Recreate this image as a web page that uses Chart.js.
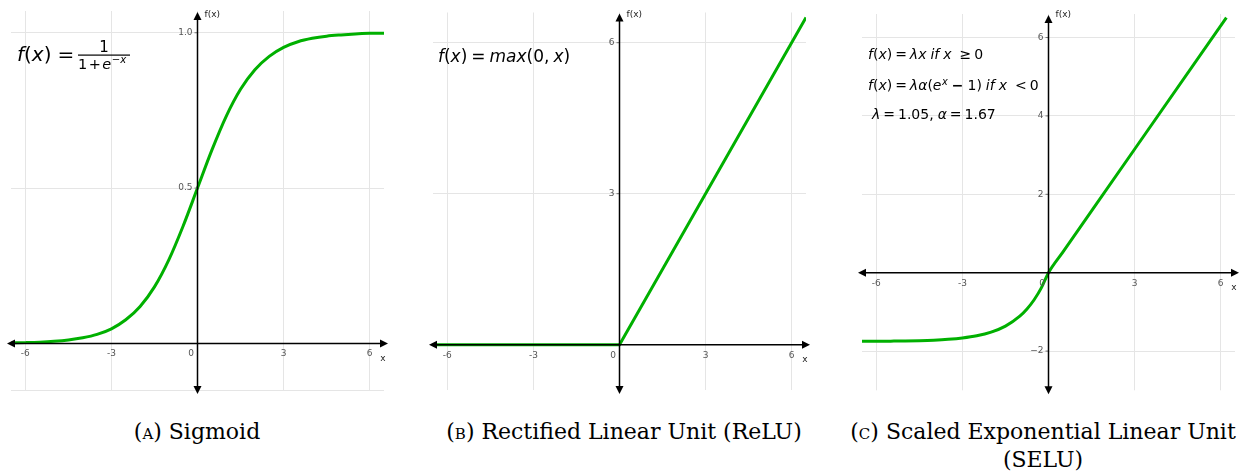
<!DOCTYPE html>
<html>
<head>
<meta charset="utf-8">
<script src="https://cdn.jsdelivr.net/npm/chart.js@4.4.1/dist/chart.umd.min.js"></script>
<style>
  body { margin: 0; background: #fff; width: 1241px; height: 472px; position: relative; overflow: hidden; }
  canvas { position: absolute; top: 0; }
  .cap { position: absolute; font-family: "DejaVu Serif", serif; font-size: 22px; line-height: 28px; color: #000; text-align: center; white-space: nowrap; }
  .sc { font-variant: small-caps; }
</style>
</head>
<body>
<canvas id="sigmoid" width="400" height="400" style="left:0"></canvas>
<canvas id="relu" width="400" height="400" style="left:420px"></canvas>
<canvas id="selu" width="401" height="400" style="left:840px"></canvas>

<div class="cap" style="left:97px;width:200px;top:418px">(<span class="sc">a</span>) Sigmoid</div>
<div class="cap" style="left:424px;width:400px;top:418px">(<span class="sc">b</span>) Rectified Linear Unit (ReLU)</div>
<div class="cap" style="left:843px;width:400px;top:418px">(<span class="sc">c</span>) Scaled Exponential Linear Unit<br>(SELU)</div>

<script>
// x ticks shared by the three panels
const xTicks = [-6, -3, 0, 3, 6];

// sigmoid curve samples
const sigmoidX = [-6.5, -6, -5.5, -5, -4.5, -4, -3.5, -3, -2.5, -2, -1.5, -1, -0.5, 0,
                  0.5, 1, 1.5, 2, 2.5, 3, 3.5, 4, 4.5, 5, 5.5, 6, 6.5];
const sigmoidY = [0.0015, 0.0025, 0.004, 0.0067, 0.011, 0.018, 0.029, 0.047, 0.076, 0.119, 0.182, 0.269, 0.378, 0.5,
                  0.622, 0.731, 0.818, 0.881, 0.924, 0.953, 0.971, 0.982, 0.989, 0.993, 0.996, 0.998, 0.998];
const sigmoidYTicks = [-0.15, 0, 0.5, 1.0];
const sigmoidYLabels = ["", "", "0.5", "1.0"];

// relu
const reluX = [-6.5, 0, 6.5];
const reluY = [0, 0, 6.5];
const reluYTicks = [0, 3, 6];
const reluYLabels = ["", "3", "6"];

// selu, lambda = 1.05, alpha = 1.67
const seluX = [-6.5, -6, -5.5, -5, -4.5, -4, -3.5, -3, -2.5, -2, -1.5, -1, -0.75, -0.5, -0.25, 0, 0.5, 3, 6.2];
const seluY = [-1.751, -1.749, -1.746, -1.742, -1.734, -1.721, -1.700, -1.666, -1.610, -1.516, -1.362, -1.108,
               -0.925, -0.690, -0.388, 0, 0.525, 3.15, 6.51];
const seluYTicks = [-2, 0, 2, 4, 6];
const seluYLabels = ["\u22122", "", "2", "4", "6"];

const GREEN = "#00b000";
const GRID = "#e5e5e5";

// draws a run of math text pieces: [text, style, dx, dy, sizeScale]
function drawMath(ctx, pieces, x, baseline, size) {
    let cx = x;
    pieces.forEach(([text, style, dx = 0, dy = 0, k = 1]) => {
        const italic = style === "i" ? "italic " : style === "b" ? "bold " : "";
        ctx.font = italic + (size * k).toFixed(1) + 'px "DejaVu Sans"';
        cx += dx;
        ctx.fillText(text, cx, baseline + dy);
        cx += ctx.measureText(text).width;
    });
    return cx;
}

function arrowHead(ctx, x, y, dir) {
    const L = 8, W = 4;
    ctx.beginPath();
    if (dir === "left") { ctx.moveTo(x, y); ctx.lineTo(x + L, y - W); ctx.lineTo(x + L, y + W); }
    if (dir === "right") { ctx.moveTo(x, y); ctx.lineTo(x - L, y - W); ctx.lineTo(x - L, y + W); }
    if (dir === "up") { ctx.moveTo(x, y); ctx.lineTo(x - W, y + L); ctx.lineTo(x + W, y + L); }
    if (dir === "down") { ctx.moveTo(x, y); ctx.lineTo(x - W, y - L); ctx.lineTo(x + W, y - L); }
    ctx.closePath();
    ctx.fill();
}

// axes through the origin with arrows, tick labels and the formula text
function axesPlugin(formula) {
    return {
        id: "originAxes",
        afterDatasetsDraw(chart) {
            const { ctx, chartArea: a, scales: { x, y } } = chart;
            const x0 = x.getPixelForValue(0);
            const y0 = y.getPixelForValue(0);
            ctx.save();

            // tick labels
            ctx.font = '9px "DejaVu Sans"';
            ctx.fillStyle = "#555";
            ctx.textAlign = "center";
            ctx.textBaseline = "top";
            x.ticks.forEach(t => {
                if (t.value === 0) return;
                ctx.fillText(String(t.value), x.getPixelForValue(t.value), y0 + 6);
            });
            ctx.fillText("0", x0 - 6.5, y0 + 6);
            ctx.textAlign = "right";
            ctx.textBaseline = "middle";
            ctx.strokeStyle = "#777";
            ctx.lineWidth = 1;
            y.ticks.forEach(t => {
                const label = chart.options.scales.y.labels[chart.options.scales.y.values.indexOf(t.value)];
                if (!label) return;
                const py = y.getPixelForValue(t.value);
                ctx.fillText(label, x0 - 5, py);
                ctx.beginPath();
                ctx.moveTo(x0 - 3, py);
                ctx.lineTo(x0, py);
                ctx.stroke();
            });

            // axis lines
            ctx.strokeStyle = "#000";
            ctx.fillStyle = "#000";
            ctx.lineWidth = 1.5;
            const xl = a.left - 4, xr = a.right + 4, yt = a.top + 1, yb = a.bottom + 4;
            ctx.beginPath();
            ctx.moveTo(xl + 4, y0); ctx.lineTo(xr - 4, y0);
            ctx.moveTo(x0, yt + 4); ctx.lineTo(x0, yb - 4);
            ctx.stroke();
            arrowHead(ctx, xl, y0, "left");
            arrowHead(ctx, xr, y0, "right");
            arrowHead(ctx, x0, yt, "up");
            arrowHead(ctx, x0, yb, "down");

            // axis names
            ctx.fillStyle = "#222";
            ctx.font = '9px "DejaVu Sans"';
            ctx.textAlign = "left";
            ctx.textBaseline = "middle";
            ctx.fillText("f(x)", x0 + 7, 15);
            ctx.textAlign = "center";
            ctx.fillText("x", a.right - 1, y0 + 15);

            // formula
            ctx.fillStyle = "#000";
            ctx.textAlign = "left";
            ctx.textBaseline = "alphabetic";
            formula(ctx);
            ctx.restore();
        }
    };
}

function makeChart(id, xs, ys, yTicks, yLabels, yMin, yMax, padding, smooth, formula) {
    const points = xs.map((v, i) => ({ x: v, y: ys[i] }));
    return new Chart(document.getElementById(id), {
        type: "line",
        data: {
            datasets: [{
                data: points,
                borderColor: GREEN,
                borderWidth: 3,
                pointRadius: 0,
                fill: false,
                cubicInterpolationMode: smooth ? "monotone" : "default",
                tension: 0,
            }],
        },
        options: {
            responsive: false,
            animation: false,
            devicePixelRatio: 1,
            layout: { padding: padding },
            plugins: { legend: { display: false }, tooltip: { enabled: false } },
            scales: {
                x: {
                    type: "linear",
                    min: -6.5,
                    max: 6.5,
                    position: { y: 0 },
                    afterBuildTicks: s => { s.ticks = xTicks.map(v => ({ value: v })); },
                    ticks: { display: false },
                    grid: { color: GRID, lineWidth: 1, drawTicks: false },
                    border: { display: false },
                },
                y: {
                    type: "linear",
                    min: yMin,
                    max: yMax,
                    position: { x: 0 },
                    values: yTicks,
                    labels: yLabels,
                    afterBuildTicks: s => { s.ticks = yTicks.map(v => ({ value: v })); },
                    ticks: { display: false },
                    grid: { color: GRID, lineWidth: 1, drawTicks: false },
                    border: { display: false },
                },
            },
        },
        plugins: [axesPlugin(formula)],
    });
}

makeChart("sigmoid", sigmoidX, sigmoidY, sigmoidYTicks, sigmoidYLabels, -0.15, 1.07,
    { left: 11, right: 16, top: 11, bottom: 10 }, true, ctx => {
        drawMath(ctx, [["f", "i"], ["("], ["x", "i"], [")"], ["=", "n", 6]], 17, 61, 20);
        ctx.fillRect(78, 54.5, 52, 1.2);
        ctx.font = '15px "DejaVu Sans"';
        ctx.textAlign = "center";
        ctx.fillText("1", 104, 52);
        ctx.textAlign = "left";
        drawMath(ctx, [["1"], ["+", "n", 1.5], ["e", "i", 1.5], ["\u2212", "n", 0.5, -6, 0.7], ["x", "i", 0, -6, 0.7]], 78, 69, 14.5);
    });

makeChart("relu", reluX, reluY, reluYTicks, reluYLabels, -0.9, 6.6,
    { left: 13, right: 14, top: 12.5, bottom: 10 }, false, ctx => {
        drawMath(ctx, [["f", "i"], ["("], ["x", "i"], [")"], ["=", "n", 4], ["max", "i", 4], ["("], ["0"], [","], ["x", "i", 4], [")"]], 18, 62, 17);
    });

makeChart("selu", seluX, seluY, seluYTicks, seluYLabels, -3, 6.6,
    { left: 22, right: 6, top: 14, bottom: 9.7 }, true, ctx => {
        drawMath(ctx, [["f", "i"], ["("], ["x", "i"], [")"], ["=", "n", 3], ["\u03bbx", "i", 3], ["if", "i", 4], ["x", "i", 4], ["\u2265", "n", 8], ["0", "n", 3]], 28, 59, 14);
        drawMath(ctx, [["f", "i"], ["("], ["x", "i"], [")"], ["=", "n", 3], ["\u03bb\u03b1", "i", 3], ["("], ["e", "i"], ["x", "i", 0.5, -5, 0.7], ["\u2212", "b", 4], ["1", "n", 4], [")"], ["if", "i", 4], ["x", "i", 4], ["<", "n", 8], ["0", "n", 3]], 28, 90, 14);
        drawMath(ctx, [["\u03bb", "i"], ["=", "n", 3], ["1.05,", "n", 3], ["\u03b1", "i", 4], ["=", "n", 3], ["1.67", "n", 3]], 32, 119, 14);
    });
</script>
</body>
</html>
